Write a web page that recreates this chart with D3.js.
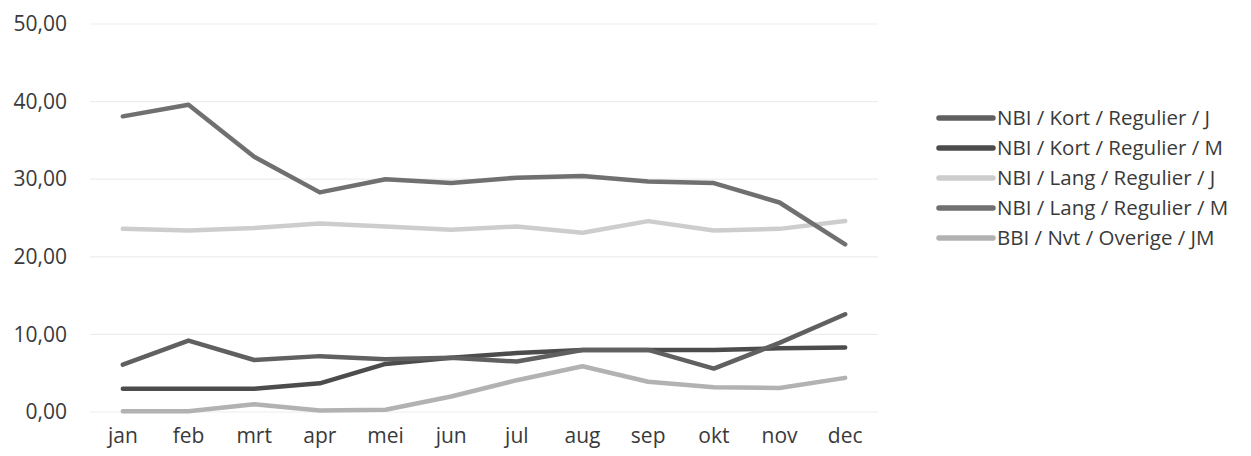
<!DOCTYPE html>
<html>
<head>
<meta charset="utf-8">
<script src="https://cdn.jsdelivr.net/npm/d3@7"></script>
<style>
  html, body { margin: 0; padding: 0; background: #ffffff; }
  svg { display: block; }
  text { font-family: "Open Sans", Lato, sans-serif; fill: #3a3a3a; }
</style>
</head>
<body>
<svg id="chart" width="1251" height="456"></svg>
<script>
const months = ["jan","feb","mrt","apr","mei","jun","jul","aug","sep","okt","nov","dec"];
const yTicks = [0, 10, 20, 30, 40, 50];

const seriesNames = [
  "NBI / Kort / Regulier / J",
  "NBI / Kort / Regulier / M",
  "NBI / Lang / Regulier / J",
  "NBI / Lang / Regulier / M",
  "BBI / Nvt / Overige / JM"
];
const kortJ  = [6.1, 9.2, 6.7, 7.2, 6.8, 7.0, 6.5, 8.0, 8.0, 5.6, 8.9, 12.6];
const kortM  = [3.0, 3.0, 3.0, 3.7, 6.2, 7.0, 7.6, 8.0, 8.0, 8.0, 8.2, 8.3];
const langJ  = [23.6, 23.4, 23.7, 24.3, 23.9, 23.5, 23.9, 23.1, 24.6, 23.4, 23.6, 24.6];
const langM  = [38.1, 39.6, 32.9, 28.3, 30.0, 29.5, 30.2, 30.4, 29.7, 29.5, 27.0, 21.6];
const bbi    = [0.1, 0.1, 1.0, 0.2, 0.3, 2.0, 4.1, 5.9, 3.9, 3.2, 3.1, 4.4];

const colors = ["#606060", "#4c4c4c", "#cdcdcd", "#707070", "#b2b2b2"];
const allSeries = [kortJ, kortM, langJ, langM, bbi];
const drawOrder = [4, 2, 3, 1, 0];

const svg = d3.select("#chart");
const x = d3.scaleBand().domain(months).range([90, 878]);
const y = d3.scaleLinear().domain([0, 50]).range([412, 24]);
const cx = m => x(m) + x.bandwidth() / 2;

// gridlines
svg.append("g").selectAll("line").data(yTicks).join("line")
  .attr("x1", 90).attr("x2", 878)
  .attr("y1", d => y(d)).attr("y2", d => y(d))
  .attr("stroke", "#ededed").attr("stroke-width", 1.2);

// y axis labels
const yAxis = d3.axisLeft(y).tickValues(yTicks)
  .tickFormat(d => d3.format(".2f")(d).replace(".", ","))
  .tickSize(0).tickPadding(0);
const gy = svg.append("g").attr("transform", "translate(67,0)").call(yAxis);
gy.select(".domain").remove();
gy.selectAll("text").attr("font-size", 21).attr("fill", "#3a3a3a")
  .style("font-family", '"Open Sans", Lato, sans-serif');

// x axis labels
const xAxis = d3.axisBottom(x).tickSize(0).tickPadding(0);
const gx = svg.append("g").attr("transform", "translate(0,428)").call(xAxis);
gx.select(".domain").remove();
gx.selectAll("text").attr("font-size", 21).attr("fill", "#3a3a3a")
  .style("font-family", '"Open Sans", Lato, sans-serif');

// lines
const line = d3.line().x((d, i) => cx(months[i])).y(d => y(d));
drawOrder.forEach(i => {
  svg.append("path").datum(allSeries[i])
    .attr("d", line)
    .attr("fill", "none")
    .attr("stroke", colors[i])
    .attr("stroke-width", 4.5)
    .attr("stroke-linejoin", "round")
    .attr("stroke-linecap", "round");
});

// legend
const legend = svg.append("g");
seriesNames.forEach((name, i) => {
  const yy = 118 + i * 30;
  legend.append("line")
    .attr("x1", 939).attr("x2", 993).attr("y1", yy).attr("y2", yy)
    .attr("stroke", colors[i]).attr("stroke-width", 5.5).attr("stroke-linecap", "round");
  legend.append("text")
    .attr("x", 997).attr("y", yy).attr("dy", "0.35em")
    .attr("font-size", 20.5).text(name);
});
</script>
</body>
</html>
